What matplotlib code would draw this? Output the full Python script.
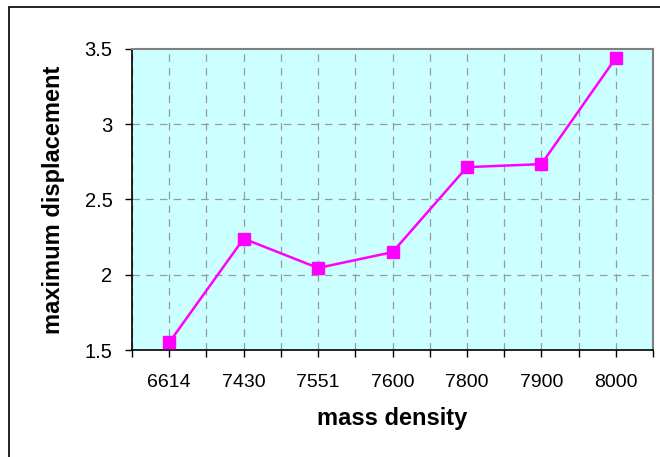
import numpy as np
import matplotlib
matplotlib.use("Agg")
import matplotlib.pyplot as plt
from matplotlib.patches import Rectangle

plt.rcParams["font.family"] = ["Liberation Sans", "DejaVu Sans"]

densities = ["6614", "7430", "7551", "7600", "7800", "7900", "8000"]
displacement = [1.55, 2.24, 2.045, 2.15, 2.715, 2.735, 3.44]

fig = plt.figure(figsize=(6.6, 4.57), dpi=100)
W, H = 660, 457
ax = fig.add_axes([132 / W, 1 - 350 / H, (653 - 132) / W, (350 - 49) / H])

# outer chart frame
fig.patches.append(Rectangle((9 / W, -0.1), 1.2, 1 - 7 / H + 0.1, transform=fig.transFigure,
                             fill=False, edgecolor="black", linewidth=1.2))

x = np.arange(len(densities))
ax.set_facecolor("#CCFFFF")
ax.plot(x, displacement, color="#FF00FF", linewidth=1.8, marker="s",
        markersize=8, zorder=3, clip_on=False)

ax.set_xlim(-0.5, len(densities) - 0.5)
ax.set_ylim(1.5, 3.5)
ax.set_yticks([1.5, 2, 2.5, 3, 3.5])
ax.set_yticklabels(["1.5", "2", "2.5", "3", "3.5"])

# ticks at category boundaries, labels at centres
ax.set_xticks(np.arange(-0.5, len(densities), 1.0))
ax.set_xticklabels([])
ax.set_xticks(x, minor=True)
ax.set_xticklabels(densities, minor=True)
ax.tick_params(axis="x", which="both", direction="out", length=5, width=1,
               labelsize=14, pad=12, colors="black")
ax.tick_params(axis="y", direction="out", length=5, width=1, labelsize=14.5, pad=9)

# grid
for xv in np.arange(-0.5, len(densities), 0.5):
    ax.axvline(xv, color="#999999", linestyle=(0, (6, 5)), linewidth=0.9, zorder=1)
for yv in [2, 2.5, 3]:
    ax.axhline(yv, color="#999999", linestyle=(0, (6, 5)), linewidth=0.9, zorder=1)

for s in ["top", "right"]:
    ax.spines[s].set_color("#808080")
    ax.spines[s].set_linewidth(1.5)
for s in ["left", "bottom"]:
    ax.spines[s].set_color("black")
    ax.spines[s].set_linewidth(1.2)

ax.set_xlabel("mass density", fontsize=17, fontweight="bold", labelpad=12)
ax.set_ylabel("maximum displacement", fontsize=17, fontweight="bold", labelpad=14)

fig.savefig("out.png", dpi=100)
